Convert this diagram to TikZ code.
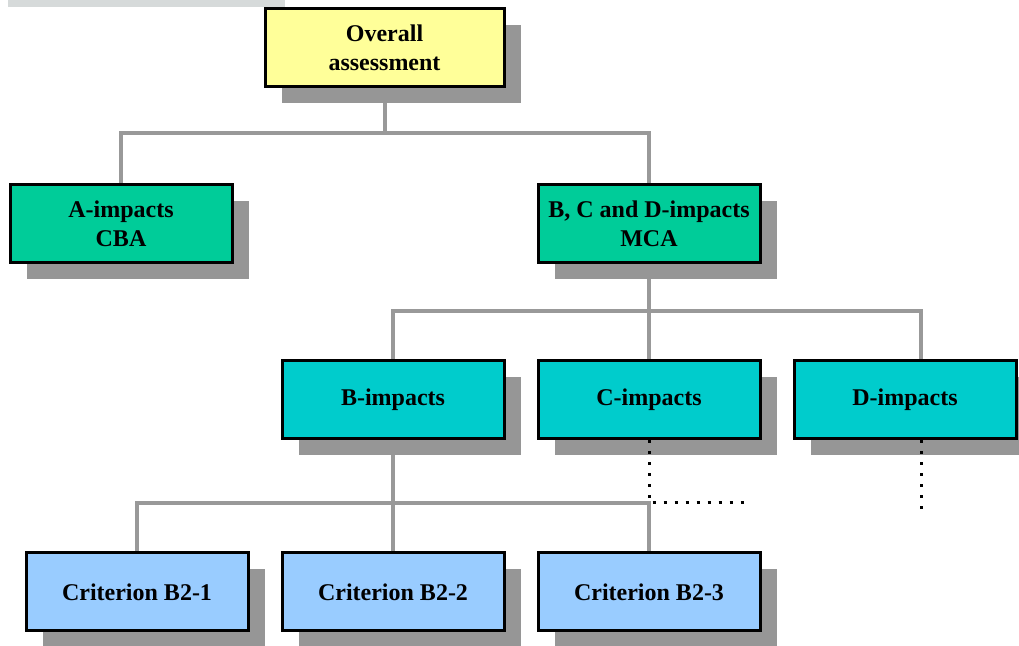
\documentclass[tikz,border=0pt]{standalone}
\usepackage{fontspec}
\setmainfont{Liberation Serif}
\usetikzlibrary{shadows,backgrounds,calc}
\definecolor{overallfill}{RGB}{255,255,153}
\definecolor{mainfill}{RGB}{0,204,153}
\definecolor{groupfill}{RGB}{0,204,204}
\definecolor{critfill}{RGB}{153,204,255}
\definecolor{shadowgray}{RGB}{150,150,150}
\definecolor{linkgray}{RGB}{153,153,153}
\definecolor{stripgray}{RGB}{214,218,218}

\tikzset{
  box/.style={draw=black, line width=1.5pt, minimum width=111pt, minimum height=39pt,
    inner sep=0pt, align=center, font=\fontsize{12}{14.5}\selectfont\bfseries,
    drop shadow={shadow xshift=8.5pt, shadow yshift=-8pt, fill=shadowgray, opacity=1}},
  link/.style={draw=linkgray, line width=2pt},
  dots/.style={draw=black, line width=1.5pt, dash pattern=on 1.5pt off 4pt}
}

\begin{document}
\begin{tikzpicture}[x=0.5pt, y=-0.5pt]
\useasboundingbox (0,0) rectangle (1019,646);
\fill[stripgray] (8,0) rectangle (285,7);

% top
\node[box, fill=overallfill, minimum width=119.5pt] (overall) at (384.5,48) {Overall\\assessment};

% second row
\node[box, fill=mainfill] (aimp) at (121,224) {A-impacts\\CBA};
\node[box, fill=mainfill] (bcd) at (649,224) {B, C and D-impacts\\MCA};

% third row
\node[box, fill=groupfill] (bimp) at (393,400) {B-impacts};
\node[box, fill=groupfill] (cimp) at (649,400) {C-impacts};
\node[box, fill=groupfill] (dimp) at (905,400) {D-impacts};

% criteria
\node[box, fill=critfill] (crit1) at (137,592) {Criterion B2-1};
\node[box, fill=critfill] (crit2) at (393,592) {Criterion B2-2};
\node[box, fill=critfill] (crit3) at (649,592) {Criterion B2-3};

% bus levels and loose ends
\coordinate (bus1) at (0,133);
\coordinate (bus2) at (0,311);
\coordinate (bus3) at (0,503);
\coordinate (dtop) at ([xshift=8pt]dimp.north);
\coordinate (dbot) at ([xshift=8pt]dimp.south);
\coordinate (cend) at (745,503);
\coordinate (dend) at (921,517);

\begin{scope}[on background layer]
  \draw[link] (overall.south) -- (overall.south |- bus1) -| (aimp.north);
  \draw[link] (overall.south |- bus1) -| (bcd.north);
  \draw[link] (bcd.south) -- (bcd.south |- bus2) -| (bimp.north);
  \draw[link] (bcd.south) -- (cimp.north);
  \draw[link] (bcd.south |- bus2) -| (dtop);
  \draw[link] (bimp.south) -- (bimp.south |- bus3) -| (crit1.north);
  \draw[link] (bimp.south) -- (crit2.north);
  \draw[link] (bimp.south |- bus3) -| (crit3.north);
\end{scope}

\draw[dots] (cimp.south) |- (cend);
\draw[dots] (dbot) -- (dend);
\end{tikzpicture}
\end{document}
